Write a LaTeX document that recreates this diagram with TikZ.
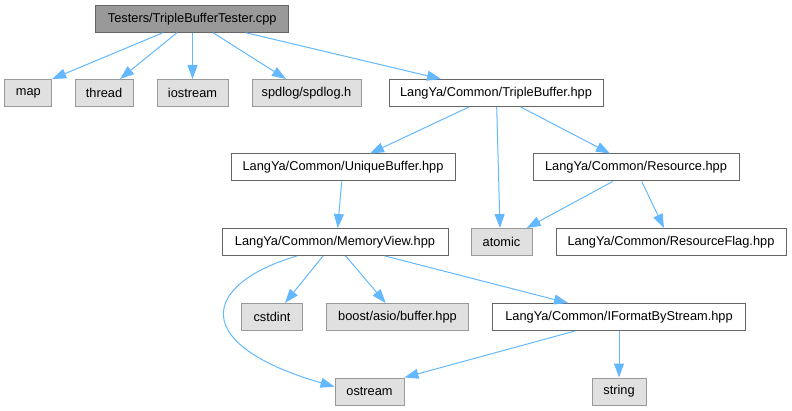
\documentclass[tikz,border=0pt]{standalone}
\usepackage{fontspec}
\setmainfont{Liberation Sans}
\usetikzlibrary{arrows.meta}
\definecolor{edgeblue}{HTML}{63B8FF}
\definecolor{extfill}{HTML}{E0E0E0}
\definecolor{extborder}{HTML}{999999}
\definecolor{intborder}{HTML}{666666}
\definecolor{rootfill}{HTML}{999999}
\tikzset{
  box/.style={draw, line width=1pt, minimum height=27pt, inner sep=0pt, font=\fontsize{12.8}{15}\selectfont, text=black},
  extbox/.style={box, fill=extfill, draw=extborder},
  intbox/.style={box, fill=white, draw=intborder},
  rootbox/.style={box, fill=rootfill, draw=intborder},
  dep/.style={draw=edgeblue, line width=1pt, -{Triangle[length=14pt,width=10pt,fill=edgeblue]}}
}
\begin{document}
\begin{tikzpicture}[x=1pt,y=-1pt]
\useasboundingbox (0,0) rectangle (792,411);
% nodes
\node[rootbox, minimum width=193pt] (root) at (192.2,18.7) {Testers/TripleBufferTester.cpp};
\node[extbox, minimum width=46.7pt] (map) at (28.3,93) {map};
\node[extbox, minimum width=58pt] (thread) at (104,93) {thread};
\node[extbox, minimum width=71pt] (iostream) at (192.5,93) {iostream};
\node[extbox, minimum width=109pt] (spdlog) at (306.5,93) {spdlog/spdlog.h};
\node[intbox, minimum width=214pt] (tb) at (496,93) {LangYa/Common/TripleBuffer.hpp};
\node[intbox, minimum width=224pt] (ub) at (343,167.5) {LangYa/Common/UniqueBuffer.hpp};
\node[intbox, minimum width=206pt] (res) at (636,167.5) {LangYa/Common/Resource.hpp};
\node[extbox, minimum width=61pt] (atomic) at (501.5,242) {atomic};
\node[intbox, minimum width=230pt] (rflag) at (671,242) {LangYa/Common/ResourceFlag.hpp};
\node[intbox, minimum width=226pt] (mv) at (335,242) {LangYa/Common/MemoryView.hpp};
\node[extbox, minimum width=61pt] (cstdint) at (272,317) {cstdint};
\node[extbox, minimum width=141.6pt] (boost) at (397.5,317) {boost/asio/buffer.hpp};
\node[intbox, minimum width=253.7pt] (ifmt) at (619,317) {LangYa/Common/IFormatByStream.hpp};
\node[extbox, minimum width=69pt] (ostream) at (369.5,391.5) {ostream};
\node[extbox, minimum width=54pt] (string) at (619,391.5) {string};
% edges
\draw[dep] ([xshift=-29.2pt]root.south) -- (map.north east);
\draw[dep] ([xshift=-15.2pt]root.south) -- ([xshift=16pt]thread.north);
\draw[dep] ([xshift=0.3pt]root.south) -- (iostream.north);
\draw[dep] ([xshift=20.8pt]root.south) -- ([xshift=-20.5pt]spdlog.north);
\draw[dep] ([xshift=53.5pt]root.south) -- ([xshift=-55pt]tb.north);
\draw[dep] ([xshift=-27pt]tb.south) -- ([xshift=27pt]ub.north);
\draw[dep] ([xshift=0.7pt]tb.south) -- ([xshift=-1.5pt]atomic.north);
\draw[dep] ([xshift=24.7pt]tb.south) -- ([xshift=-26pt]res.north);
\draw[dep] ([xshift=-1.3pt]ub.south) -- ([xshift=2.7pt]mv.north);
\draw[dep] ([xshift=-23.3pt]res.south) -- ([xshift=25.2pt]atomic.north);
\draw[dep] ([xshift=5.7pt]res.south) -- ([xshift=-7pt]rflag.north);
\draw[dep] ([xshift=-12pt]mv.south) -- ([xshift=13pt]cstdint.north);
\draw[dep] ([xshift=10.7pt]mv.south) -- ([xshift=-11.8pt]boost.north);
\draw[dep] ([xshift=50pt]mv.south) -- ([xshift=-51pt]ifmt.north);
\draw[dep] ([xshift=-38.3pt]mv.south) .. controls (200,285) and (190,345) .. ([yshift=4.8pt]ostream.west);
\draw[dep] ([xshift=-44pt]ifmt.south) -- (ostream.north east);
\draw[dep] (ifmt.south) -- (string.north);
\end{tikzpicture}
\end{document}
